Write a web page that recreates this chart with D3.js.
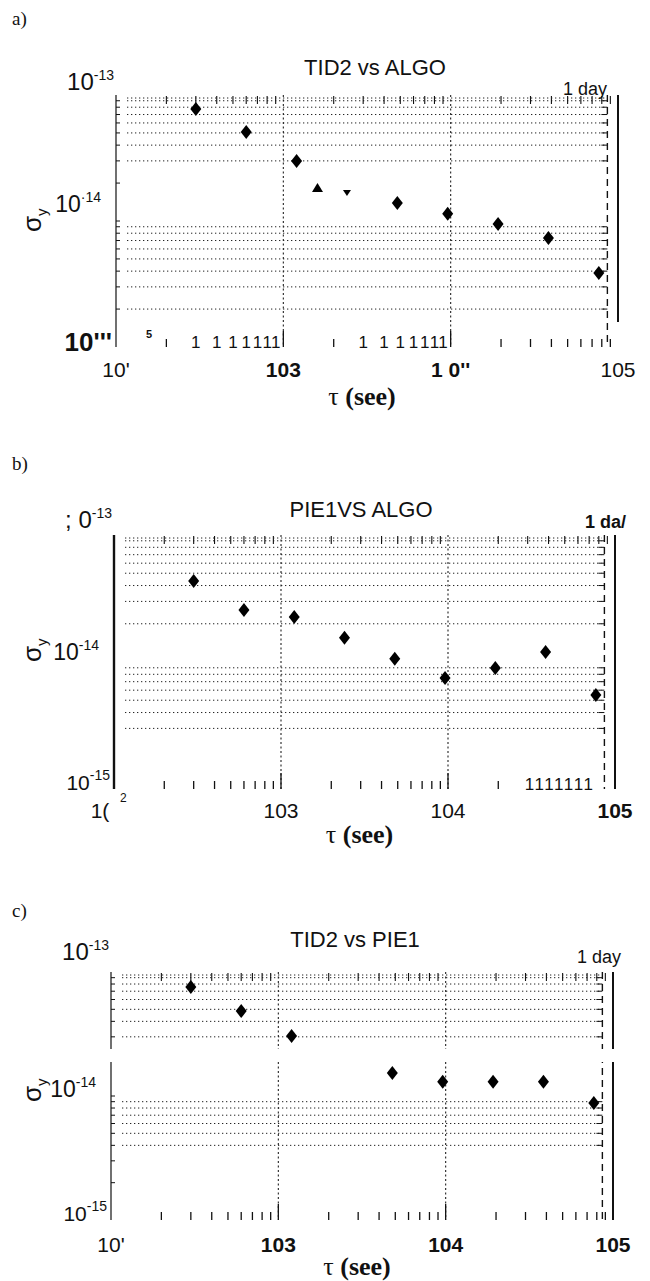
<!DOCTYPE html>
<html><head><meta charset="utf-8">
<script src="https://cdn.jsdelivr.net/npm/d3@7"></script>
<style>body{margin:0;background:#fff} svg{display:block}</style>
</head><body>
<script>
// ---------------- DATA ----------------
const panelLetters = ["a)", "b)", "c)"];
const titles = ["TID2 vs ALGO", "PIE1VS ALGO", "TID2 vs PIE1"];
const dayLabels = ["1 day", "1 da/", "1 day"];
const oneDay = 86400;

// y tick labels: [base, superscript]
const yTopLabels = [["10", "-13"], ["; 0", "-13"], ["10", "-13"]];
const yMidLabels = [["10", "·14"], ["10", "-14"], ["10", "-14"]];
const yBotLabels = [["10'''", ""], ["10", "-15"], ["10", "-15"]];

// x tick labels at 1e2, 1e3, 1e4, 1e5
const xTickValues = [1e2, 1e3, 1e4, 1e5];
const xLabelsA = ["10'", "103", "1 0''", "105"];
const xLabelsB = ["1(", "103", "104", "105"];
const xLabelsC = ["10'", "103", "104", "105"];
const xBoldA = [false, true, true, false];
const xBoldB = [false, false, false, true];
const xBoldC = [false, true, true, true];

// Panel a) TID2 vs ALGO
const tauA = [300, 600, 1200, 4800, 9600, 19200, 38400, 76800];
const sigA = [7.74e-14, 5.08e-14, 2.99e-14, 1.39e-14, 1.14e-14, 9.46e-15, 7.33e-15, 3.86e-15];
const tauAUp = [1600];
const sigAUp = [1.83e-14];
const tauADown = [2400];
const sigADown = [1.67e-14];

// Panel b) PIE1 vs ALGO
const tauB = [300, 600, 1200, 2400, 4800, 9600, 19200, 38400, 76800];
const sigB = [4.34e-14, 2.57e-14, 2.26e-14, 1.55e-14, 1.06e-14, 7.48e-15, 8.97e-15, 1.20e-14, 5.49e-15];

// Panel c) TID2 vs PIE1
const tauC = [300, 600, 1200, 4800, 9600, 19200, 38400, 76800];
const sigC = [7.57e-14, 4.84e-14, 3.05e-14, 1.53e-14, 1.30e-14, 1.30e-14, 1.30e-14, 8.79e-15];

// ---------------- LAYOUT / STYLE ----------------
const W = 650, H = 1281;
const sans = "'Liberation Sans',Arial,sans-serif";
const serif = "'Liberation Serif','Times New Roman',serif";

function mant(v) { const e = Math.floor(Math.log10(v) + 1e-9); return [Math.round(v / Math.pow(10, e)), e]; }

const panels = [
  { letter: panelLetters[0], title: titles[0], day: dayLabels[0],
    x0: 116, x1: 618, yTop: 95, yBot: 347, letterY: 25, titleX: 375, titleY: 75,
    topLabY: 90, dayX: 607, dayY: 95, dayBold: false,
    yTop_: yTopLabels[0], yMid_: yMidLabels[0], yBot_: yBotLabels[0], midDy: -9, sigDy: 13,
    xLabels: xLabelsA, xBold: xBoldA, xLabY: 377, tauY: 405,
    series: [{t: tauA, s: sigA, sym: "diamond"}, {t: tauAUp, s: sigAUp, sym: "up"}, {t: tauADown, s: sigADown, sym: "down"}],
    grid: v => { const [m, e] = mant(v); if (e === -14) return m >= 3; if (e === -15) return m >= 2; return false; },
    bottomStyle: ["glyph", "glyph", "line"], leftTicks: true, leftWidth: 1.2, rightCut: 25 },
  { letter: panelLetters[1], title: titles[1], day: dayLabels[1],
    x0: 114, x1: 615, yTop: 535, yBot: 789, letterY: 470, titleX: 361, titleY: 517,
    topLabY: 528, dayX: 626, dayY: 528, dayBold: true,
    yTop_: yTopLabels[1], yMid_: yMidLabels[1], yBot_: yBotLabels[1], midDy: -2, sigDy: -5,
    xLabels: xLabelsB, xBold: xBoldB, xLabY: 818, tauY: 843,
    series: [{t: tauB, s: sigB, sym: "diamond"}],
    grid: v => { const [m, e] = mant(v); if (e === -14) return m >= 2; if (e === -15) return m >= 3; return false; },
    bottomStyle: ["line", "line", "text"], leftTicks: false, leftWidth: 2.4, rightCut: 0 },
  { letter: panelLetters[2], title: titles[2], day: dayLabels[2],
    x0: 111, x1: 613, yTop: 972, yBot: 1220, letterY: 917, titleX: 355, titleY: 947,
    topLabY: 960, dayX: 621, dayY: 963, dayBold: false,
    yTop_: yTopLabels[2], yMid_: yMidLabels[2], yBot_: yBotLabels[2], midDy: 1, sigDy: -2,
    xLabels: xLabelsC, xBold: xBoldC, xLabY: 1252, tauY: 1275,
    series: [{t: tauC, s: sigC, sym: "diamond"}],
    grid: v => { const [m, e] = mant(v); if (e === -14) return m >= 3; if (e === -15) return m >= 4; return false; },
    bottomStyle: ["line", "line", "line"], leftTicks: true, leftWidth: 1.2, rightCut: 0,
    gap: [1049, 1062] }
];

const svg = d3.select("body").append("svg").attr("width", W).attr("height", H)
  .style("background", "#fff");

function symPath(kind) {
  if (kind === "diamond") return "M0,-7L5.5,0L0,7L-5.5,0Z";
  if (kind === "up") return "M0,-5L5.5,4L-5.5,4Z";
  return "M0,3L4,-3L-4,-3Z";
}

panels.forEach((p, pi) => {
  const g = svg.append("g");
  const x = d3.scaleLog().domain([1e2, 1e5]).range([p.x0, p.x1]);
  const y = d3.scaleLog().domain([1e-15, 1e-13]).range([p.yBot, p.yTop]);
  const xDay = x(oneDay);

  // panel letter
  g.append("text").attr("x", 12).attr("y", p.letterY).text(p.letter)
    .attr("font-family", serif).attr("font-size", 19).attr("fill", "#111");

  // title
  g.append("text").attr("x", p.titleX).attr("y", p.titleY).attr("text-anchor", "middle")
    .text(p.title).attr("font-family", sans).attr("font-size", 22).attr("fill", "#111");

  // horizontal gridlines
  const gv = y.ticks().filter(p.grid);
  g.selectAll(".hg").data(gv).join("line")
    .attr("x1", p.x0 + 11).attr("x2", xDay - 3)
    .attr("y1", d => y(d)).attr("y2", d => y(d))
    .attr("stroke", "#222").attr("stroke-width", 1).attr("stroke-dasharray", "1.3,2.7");

  // vertical dotted lines at decades
  g.selectAll(".vg").data([1e3, 1e4]).join("line")
    .attr("x1", d => x(d)).attr("x2", d => x(d)).attr("y1", p.yTop).attr("y2", p.yBot)
    .attr("stroke", "#222").attr("stroke-width", 1.1).attr("stroke-dasharray", "2,2.5");

  // 1 day dashed line
  g.append("line").attr("x1", xDay).attr("x2", xDay).attr("y1", p.yTop).attr("y2", p.yBot)
    .attr("stroke", "#111").attr("stroke-width", 1.4).attr("stroke-dasharray", "7,5");

  // left & right axes
  g.append("line").attr("x1", p.x0).attr("x2", p.x0).attr("y1", p.yTop).attr("y2", p.yBot)
    .attr("stroke", "#111").attr("stroke-width", p.leftWidth);
  g.append("line").attr("x1", p.x1).attr("x2", p.x1).attr("y1", p.yTop).attr("y2", p.yBot - p.rightCut)
    .attr("stroke", "#111").attr("stroke-width", 2);

  // left/right minor ticks at gridline positions
  const yt = y.ticks().filter(v => v < 1e-13 && v > 1e-15);
  if (p.leftTicks) {
    g.selectAll(".lt").data(yt).join("line")
      .attr("x1", p.x0).attr("x2", p.x0 + 4).attr("y1", d => y(d)).attr("y2", d => y(d))
      .attr("stroke", "#111").attr("stroke-width", 1);
  }
  g.selectAll(".rt").data(gv).join("line")
    .attr("x1", xDay - 6).attr("x2", xDay).attr("y1", d => y(d)).attr("y2", d => y(d))
    .attr("stroke", "#111").attr("stroke-width", 1);

  // top minor ticks
  const minors = x.ticks().filter(v => mant(v)[0] !== 1);
  g.selectAll(".tt").data(minors).join("line")
    .attr("x1", d => x(d)).attr("x2", d => x(d)).attr("y1", p.yTop + 1).attr("y2", p.yTop + 9)
    .attr("stroke", "#111").attr("stroke-width", 1.1);
  // top dotted line
  g.append("line").attr("x1", p.x0 + 11).attr("x2", xDay - 3).attr("y1", p.yTop + 3).attr("y2", p.yTop + 3)
    .attr("stroke", "#222").attr("stroke-dasharray", "1.3,2.7");

  // bottom minor ticks: line / "1" glyph / packed text per decade
  minors.forEach(v => {
    const [m, e] = mant(v);
    const dec = e - 2;
    const style = p.bottomStyle[dec];
    if (style === "glyph" && m >= 3) {
      g.append("text").attr("x", x(v)).attr("y", p.yBot + 1).attr("text-anchor", "middle")
        .text("1").attr("font-family", sans).attr("font-size", 17).attr("fill", "#111");
    } else if (style === "text" && m >= 3) {
      // drawn below as one packed string
    } else {
      g.append("line").attr("x1", x(v)).attr("x2", x(v)).attr("y1", p.yBot - 8).attr("y2", p.yBot)
        .attr("stroke", "#111").attr("stroke-width", 1.3);
    }
  });
  p.bottomStyle.forEach((st, dec) => {
    if (st === "text") {
      g.append("text").attr("x", x(3 * Math.pow(10, dec + 2)) - 3).attr("y", p.yBot + 1)
        .text("1111111").attr("font-family", sans).attr("font-size", 17)
        .attr("letter-spacing", 1.6).attr("fill", "#111");
    }
  });
  g.selectAll(".mj").data([1e3, 1e4]).join("line")
    .attr("x1", d => x(d)).attr("x2", d => x(d)).attr("y1", p.yBot - 16).attr("y2", p.yBot)
    .attr("stroke", "#111").attr("stroke-width", 1.3);

  // gap (scan band) in panel c
  if (p.gap) {
    g.append("rect").attr("x", p.x0 - 8).attr("y", p.gap[0]).attr("width", p.x1 - p.x0 + 20)
      .attr("height", p.gap[1] - p.gap[0]).attr("fill", "#fff");
  }

  // markers
  p.series.forEach(s => {
    g.selectAll(null).data(s.t.map((t, i) => [t, s.s[i]])).join("path")
      .attr("d", symPath(s.sym))
      .attr("transform", d => `translate(${x(d[0])},${y(d[1])})`)
      .attr("fill", "#000");
  });

  // y labels
  function yLabel(lbl, xx, yy, bold, size) {
    const t = g.append("text").attr("x", xx).attr("y", yy).attr("text-anchor", "end")
      .attr("font-family", sans).attr("font-size", size).attr("fill", "#111")
      .attr("font-weight", bold ? "bold" : "normal");
    t.append("tspan").text(lbl[0]);
    if (lbl[1]) t.append("tspan").attr("dy", -10).attr("font-size", 14).attr("font-weight", "normal").text(lbl[1]);
  }
  yLabel(p.yTop_, p.x0 - 2, p.topLabY, false, 24);
  yLabel(p.yBot_, p.x0 - 4, p.yBot + (pi === 0 ? 4 : 1), pi === 0, pi === 0 ? 26 : 21);
  // mid label with sigma_y
  const ym = y(1e-14) + p.midDy;
  yLabel(p.yMid_, p.x0 - 15, ym, false, 23);
  const sg = g.append("g").attr("transform", `translate(41,${ym + p.sigDy + 7}) rotate(-90)`);
  const st = sg.append("text").attr("font-family", sans).attr("font-size", 26).attr("fill", "#111");
  st.append("tspan").text("σ");
  st.append("tspan").attr("dy", 6).attr("font-size", 15).text("y");

  // day label
  g.append("text").attr("x", p.dayX).attr("y", p.dayY)
    .attr("text-anchor", "end").text(p.day)
    .attr("font-family", sans).attr("font-size", 18).attr("font-weight", p.dayBold ? "bold" : "normal")
    .attr("fill", "#111");

  // x tick labels
  g.selectAll(".xl").data(xTickValues).join("text")
    .attr("x", (d, i) => x(d) - (pi === 1 && i === 0 ? 14 : 0)).attr("y", p.xLabY).attr("text-anchor", "middle")
    .attr("font-family", sans).attr("font-size", 21)
    .attr("font-weight", (d, i) => p.xBold[i] ? "bold" : "normal")
    .attr("fill", "#111").text((d, i) => p.xLabels[i]);
  if (pi === 1) {
    g.append("text").attr("x", x(1e2) + 6).attr("y", p.xLabY - 16).text("2")
      .attr("font-family", sans).attr("font-size", 12).attr("fill", "#111");
  }
  if (pi === 0) {
    g.append("text").attr("x", x(1e2) + 30).attr("y", p.yBot - 9).text("5")
      .attr("font-family", sans).attr("font-size", 11).attr("font-weight", "bold").attr("fill", "#111");
  }

  // tau label
  const tl = g.append("text").attr("x", (p.x0 + p.x1) / 2 - 5).attr("y", p.tauY).attr("text-anchor", "middle")
    .attr("font-family", serif).attr("font-size", 26).attr("fill", "#111");
  tl.append("tspan").text("τ ");
  tl.append("tspan").attr("font-weight", "bold").text("(see)");
});
</script>
</body></html>
